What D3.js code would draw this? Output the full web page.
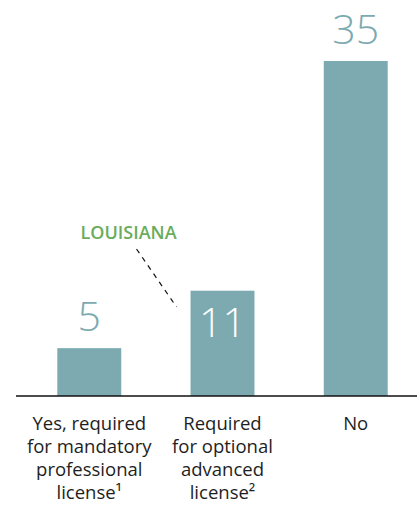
<!DOCTYPE html>
<html>
<head>
<meta charset="utf-8">
<script src="https://cdn.jsdelivr.net/npm/d3@7"></script>
<style>
  body { margin: 0; background: #fff; }
  text { font-family: "Open Sans", "Noto Sans", sans-serif; }
</style>
</head>
<body>
<div id="chart"></div>
<script>
// Data
const categories = ["mandatory", "optional", "no"];
const categoryLabels = [
  ["Yes, required", "for mandatory", "professional", "license\u00b9"],
  ["Required", "for optional", "advanced", "license\u00b2"],
  ["No"]
];
const counts = [5, 11, 35];
const annotation = { category: "optional", text: "LOUISIANA" };

const W = 417, H = 506;
const BAR = "#7caab0", GREEN = "#6aac5c", INK = "#1e1e1e";
const baseY = 396;

var svg = d3.select("#chart").append("svg")
  .attr("width", W)
  .attr("height", H);

var x = d3.scaleBand()
  .domain(categories)
  .range([24, 421])
  .paddingInner(0.52)
  .paddingOuter(0.25);

var y = d3.scaleLinear()
  .domain([0, 35])
  .range([baseY, 61]);

// bars
svg.selectAll("rect.bar")
  .data(counts)
  .enter().append("rect")
  .attr("class", "bar")
  .attr("x", function(d, i) { return x(categories[i]); })
  .attr("width", x.bandwidth())
  .attr("y", function(d) { return y(d); })
  .attr("height", function(d) { return baseY - y(d); })
  .attr("fill", BAR);

// value labels: the middle one sits inside its bar in white
svg.selectAll("text.val")
  .data(counts)
  .enter().append("text")
  .attr("class", "val")
  .attr("text-anchor", "middle")
  .attr("x", function(d, i) { return x(categories[i]) + x.bandwidth() / 2; })
  .attr("y", function(d, i) { return i == 1 ? y(d) + 46 : y(d) - 17; })
  .attr("font-size", 41)
  .attr("font-weight", 300)
  .attr("fill", function(d, i) { return i == 1 ? "#fff" : BAR; })
  .text(function(d) { return d; });

// baseline
svg.append("line")
  .attr("x1", 16).attr("x2", W)
  .attr("y1", baseY).attr("y2", baseY)
  .attr("stroke", "#111")
  .attr("stroke-width", 1.5);

// category labels
var cat = svg.selectAll("text.cat")
  .data(categoryLabels)
  .enter().append("text")
  .attr("class", "cat")
  .attr("text-anchor", "middle")
  .attr("font-size", 18.5)
  .attr("fill", INK);

cat.selectAll("tspan")
  .data(function(d, i) { return d.map(function(s) { return { s: s, i: i }; }); })
  .enter().append("tspan")
  .attr("x", function(d) { return x(categories[d.i]) + x.bandwidth() / 2; })
  .attr("y", function(d, j) { return 430 + j * 23; })
  .text(function(d) { return d.s; });

// Louisiana callout, pointing at the left edge of its bar
var ax = x(annotation.category);
svg.append("text")
  .attr("x", ax - 62)
  .attr("y", 239)
  .attr("text-anchor", "middle")
  .attr("font-size", 18)
  .attr("font-weight", 600)
  .attr("fill", GREEN)
  .text(annotation.text);

svg.append("line")
  .attr("x1", ax - 54).attr("y1", 249)
  .attr("x2", ax - 14).attr("y2", 307)
  .attr("stroke", "#111")
  .attr("stroke-width", 1.2)
  .attr("stroke-dasharray", "5,5");
</script>
</body>
</html>
